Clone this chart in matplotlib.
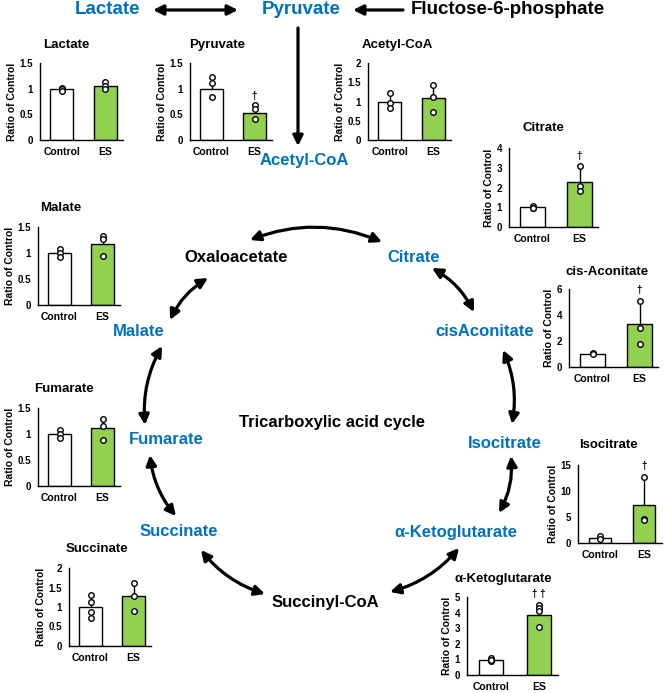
import matplotlib
matplotlib.use("Agg")
import matplotlib.pyplot as plt

plt.rcParams["font.family"] = ["Liberation Sans", "DejaVu Sans"]
plt.rcParams["font.weight"] = "bold"

W, H = 668, 693
BLUE = "#0070C0"
GREEN = "#92D050"

# ── data (ratio of control) ──────────────────────────────────────────────────
groups = ["Control", "ES"]

lactate_mean = [1.0, 1.06]
lactate_sd = [0.03, 0.07]
lactate_pts = [[1.02, 0.99, 0.96], [1.13, 1.06, 1.0]]

pyruvate_mean = [1.0, 0.52]
pyruvate_sd = [0.2, 0.16]
pyruvate_pts = [[1.22, 1.11, 0.83], [0.69, 0.6, 0.4]]

acetyl_mean = [1.0, 1.09]
acetyl_sd = [0.22, 0.27]
acetyl_pts = [[1.23, 0.96, 0.83], [1.42, 1.12, 0.74]]

citrate_mean = [1.0, 2.3]
citrate_sd = [0.05, 0.75]
citrate_pts = [[1.04, 0.98, 0.95], [3.1, 2.08, 1.8]]

malate_mean = [1.0, 1.18]
malate_sd = [0.08, 0.21]
malate_pts = [[1.08, 1.0, 0.93], [1.33, 1.27, 0.94]]

cisacon_mean = [1.0, 3.3]
cisacon_sd = [0.08, 1.8]
cisacon_pts = [[1.05, 0.98], [5.1, 3.0, 1.75]]

isocit_mean = [1.0, 7.3]
isocit_sd = [0.3, 5.2]
isocit_pts = [[1.3, 0.8], [12.6, 4.6, 4.4]]

akg_mean = [0.97, 3.87]
akg_sd = [0.08, 0.5]
akg_pts = [[1.06, 0.92, 0.97], [4.5, 4.3, 4.1, 3.05]]

fumarate_mean = [1.0, 1.11]
fumarate_sd = [0.07, 0.17]
fumarate_pts = [[1.07, 1.0, 0.93], [1.28, 1.15, 0.89]]

succinate_mean = [1.0, 1.27]
succinate_sd = [0.27, 0.33]
succinate_pts = [[1.3, 1.13, 0.88, 0.73], [1.62, 1.27, 0.9]]

# ── chart layout in pixels: spine x, px per bar step, top y, bottom y ────────
charts = [
    # title, mean, sd, pts, (spine, step, top, bottom), ymax, yticks, title xy, dagger
    ("Lactate", lactate_mean, lactate_sd, lactate_pts, (40, 43.5, 63, 140), 1.5,
     [0, 0.5, 1, 1.5], (66, 45), None),
    ("Pyruvate", pyruvate_mean, pyruvate_sd, pyruvate_pts, (190, 43, 63, 140), 1.5,
     [0, 0.5, 1, 1.5], (217, 45), ("\u2020", 0.86)),
    ("Acetyl-CoA", acetyl_mean, acetyl_sd, acetyl_pts, (368, 43.5, 63, 140), 2,
     [0, 0.5, 1, 1.5, 2], (397, 45), None),
    ("Citrate", citrate_mean, citrate_sd, citrate_pts, (509, 47, 148, 227), 4,
     [0, 1, 2, 3, 4], (543, 128), ("\u2020", 3.6)),
    ("Malate", malate_mean, malate_sd, malate_pts, (38, 43, 227, 305), 1.5,
     [0, 0.5, 1, 1.5], (61, 208), None),
    ("cis-Aconitate", cisacon_mean, cisacon_sd, cisacon_pts, (569, 47, 289, 367), 6,
     [0, 2, 4, 6], (607, 272), ("\u2020", 5.95)),
    ("Fumarate", fumarate_mean, fumarate_sd, fumarate_pts, (38, 43, 408, 486), 1.5,
     [0, 0.5, 1, 1.5], (64, 389), None),
    ("Isocitrate", isocit_mean, isocit_sd, isocit_pts, (578, 44, 465, 543), 15,
     [0, 5, 10, 15], (608, 445), ("\u2020", 14.8)),
    ("Succinate", succinate_mean, succinate_sd, succinate_pts, (69, 43, 568, 646), 2,
     [0, 0.5, 1, 1.5, 2], (97, 549), None),
    ("\u03b1-Ketoglutarate", akg_mean, akg_sd, akg_pts, (467, 48, 597, 675), 5,
     [0, 1, 2, 3, 4, 5], (503, 579), ("\u2020 \u2020", 5.2)),
]

# ── pathway labels (pixel positions) ─────────────────────────────────────────
top_labels = [("Lactate", 107, 10, BLUE), ("Pyruvate", 301, 10, BLUE),
              ("Fluctose-6-phosphate", 508, 10, "black")]
cycle_labels = [
    ("Acetyl-CoA", 304, 160, BLUE),
    ("Oxaloacetate", 236, 258, "black"),
    ("Citrate", 414, 258, BLUE),
    ("cisAconitate", 485, 332, BLUE),
    ("Isocitrate", 505, 443, BLUE),
    ("\u03b1-Ketoglutarate", 456, 533, BLUE),
    ("Succinyl-CoA", 325, 602, "black"),
    ("Succinate", 179, 532, BLUE),
    ("Fumarate", 166, 440, BLUE),
    ("Malate", 139, 332, BLUE),
    ("Tricarboxylic acid cycle", 332, 422, "black"),
]

# arrows: start, end, style, curvature
arrows = [
    ((153, 10), (238, 10), "<|-|>", 0.0),      # Lactate <-> Pyruvate
    ((403, 10), (353, 10), "-|>", 0.0),        # F6P -> Pyruvate
    ((298, 28), (298, 146), "-|>", 0.0),       # Pyruvate -> Acetyl-CoA
    ((250, 240), (382, 242), "<|-|>", -0.2),   # Oxaloacetate <-> Citrate
    ((208, 278), (170, 320), "<|-|>", 0.15),   # Oxaloacetate <-> Malate
    ((162, 346), (145, 425), "<|-|>", 0.15),   # Malate <-> Fumarate
    ((150, 455), (176, 516), "<|-|>", 0.15),   # Fumarate <-> Succinate
    ((201, 550), (265, 594), "<|-|>", 0.15),   # Succinate <-> Succinyl-CoA
    ((390, 592), (459, 548), "<|-|>", 0.15),   # Succinyl-CoA <-> aKG
    ((499, 513), (511, 456), "<|-|>", 0.15),   # aKG <-> Isocitrate
    ((512, 424), (503, 350), "<|-|>", 0.15),   # Isocitrate <-> cisAconitate
    ((474, 312), (432, 268), "<|-|>", 0.15),   # cisAconitate <-> Citrate
]

fig = plt.figure(figsize=(W / 100, H / 100), dpi=100)
main = fig.add_axes([0, 0, 1, 1])
main.set_xlim(0, W)
main.set_ylim(H, 0)
main.axis("off")

for text, x, y, c in top_labels:
    main.text(x, y, text, color=c, fontsize=13.5, fontweight="bold",
              ha="center", va="center")
for text, x, y, c in cycle_labels:
    main.text(x, y, text, color=c, fontsize=12, fontweight="bold",
              ha="center", va="center")

for (x0, y0), (x1, y1), style, rad in arrows:
    main.annotate("", xy=(x1, y1), xytext=(x0, y0),
                  arrowprops=dict(arrowstyle=style, color="black", lw=2.3,
                                  mutation_scale=15, shrinkA=0, shrinkB=0,
                                  connectionstyle=f"arc3,rad={rad}"))

# ── small bar charts ─────────────────────────────────────────────────────────
xl = (-0.5, 1.4)
for title, mean, sd, pts, (spine, step, top, bottom), ymax, yticks, (tx, ty), dag in charts:
    right = spine + (xl[1] - xl[0]) * step
    ax = fig.add_axes([spine / W, 1 - bottom / H, (right - spine) / W,
                       (bottom - top) / H])
    ax.bar([0, 1], mean, width=0.52, color=["white", GREEN],
           edgecolor="black", linewidth=1.0, zorder=2)
    for i in range(2):
        ax.vlines(i, mean[i], mean[i] + sd[i], color="black", lw=1.0, zorder=1)
        ax.plot([i] * len(pts[i]), pts[i], "o", mfc="white", mec="black",
                ms=4, mew=1.0, zorder=3, clip_on=False)
    if dag:
        ax.text(1, dag[1], dag[0], ha="center", va="center", fontsize=7,
                fontweight="bold")
    ax.set_xlim(*xl)
    ax.set_ylim(0, ymax)
    ax.set_yticks(yticks)
    ax.set_yticklabels([f"{t:g}" for t in yticks], fontsize=7, fontweight="bold")
    ax.set_xticks([0, 1])
    ax.set_xticklabels(groups, fontsize=7.5, fontweight="bold")
    ax.tick_params(length=0)
    ax.tick_params(axis="x", pad=5)
    ax.tick_params(axis="y", pad=5)
    ax.set_ylabel("Ratio of Control", fontsize=7.5, fontweight="bold", labelpad=2)
    for s in ["top", "right"]:
        ax.spines[s].set_visible(False)
    for s in ["left", "bottom"]:
        ax.spines[s].set_linewidth(1.0)
    ax.patch.set_alpha(0)
    main.text(tx, ty, title, fontsize=9.5, fontweight="bold",
              ha="center", va="center")

fig.savefig("out.png", dpi=100)
